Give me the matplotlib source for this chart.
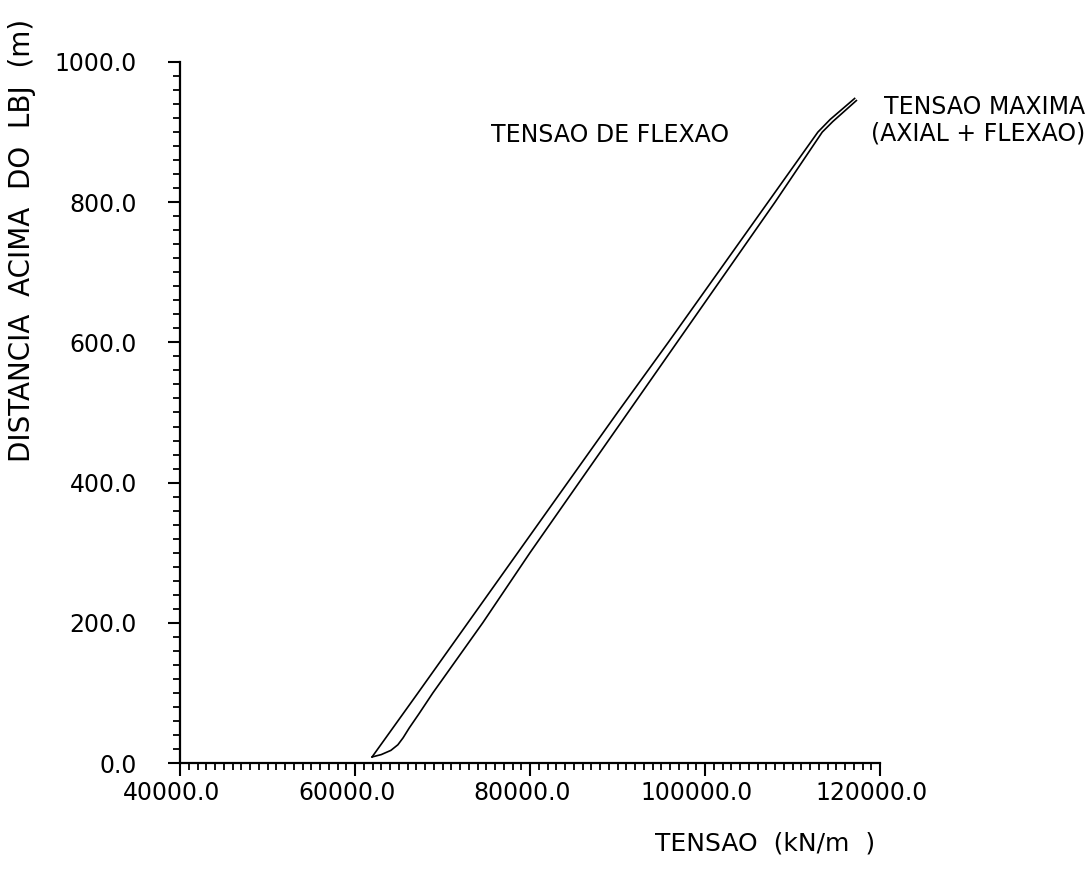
import matplotlib
matplotlib.use("Agg")
import matplotlib.pyplot as plt
from matplotlib.ticker import MultipleLocator, FormatStrFormatter
from matplotlib.transforms import ScaledTranslation

# Tensao de flexao (curva da esquerda)
alt_flexao = [8.6, 100, 200, 300, 400, 500, 600, 700, 800, 900, 918, 948]
tens_flexao = [61950, 67200, 72900, 78600, 84300, 90000, 95800, 101500, 107200, 112900, 114300, 117100]

# Tensao maxima (axial + flexao)
alt_maxima = [8.6, 12, 18, 26, 36, 50, 70, 100, 200, 300, 400, 500, 600, 700, 800, 900, 915, 945]
tens_maxima = [61950, 63000, 64100, 64900, 65500, 66200, 67300, 68900, 74600, 80000, 85600, 91200,
               96800, 102400, 108000, 113400, 114600, 117300]

plt.rcParams.update({
    "font.family": "DejaVu Sans",
    "font.size": 17,
})

fig = plt.figure(figsize=(10.92, 8.72), dpi=100)
ax = fig.add_axes([180/1092, 1 - 763/872, 700/1092, 701/872])

ax.plot(tens_flexao, alt_flexao, color="black", lw=1.2)
ax.plot(tens_maxima, alt_maxima, color="black", lw=1.2)

ax.set_xlim(40000, 120000)
ax.set_ylim(0, 1000)
ax.spines["top"].set_visible(False)
ax.spines["right"].set_visible(False)
ax.spines["left"].set_linewidth(1.6)
ax.spines["bottom"].set_linewidth(1.6)

ax.xaxis.set_major_locator(MultipleLocator(20000))
ax.xaxis.set_minor_locator(MultipleLocator(1000))
ax.yaxis.set_major_locator(MultipleLocator(200))
ax.yaxis.set_minor_locator(MultipleLocator(20))
ax.xaxis.set_major_formatter(FormatStrFormatter("%.1f"))
ax.yaxis.set_major_formatter(FormatStrFormatter("%.1f"))
ax.tick_params(which="major", direction="out", length=9, width=1.5)
ax.tick_params(which="minor", direction="out", length=5, width=1.3)
ax.tick_params(axis="x", which="major", pad=4)
ax.tick_params(axis="y", which="major", pad=22)

for lab in ax.get_xticklabels():
    lab.set_transform(lab.get_transform() + ScaledTranslation(-8/100, 0, fig.dpi_scale_trans))

fig.text(655/1092, 1 - 843/872, "TENSAO  (kN/m  )", ha="left", va="center", fontsize=18)
fig.text(22/1092, 1 - 240/872, "DISTANCIA  ACIMA  DO  LBJ  (m)", rotation=90,
         ha="center", va="center", fontsize=20)

ax.text((610 - 180)/700, 1 - (135 - 62)/701, "TENSAO DE FLEXAO", transform=ax.transAxes,
        ha="center", va="center")
fig.text(1085/1092, 1 - 107/872, "TENSAO MAXIMA", ha="right", va="center")
fig.text(1085/1092, 1 - 133/872, "(AXIAL + FLEXAO)", ha="right", va="center")

fig.savefig("out.png", dpi=100)
